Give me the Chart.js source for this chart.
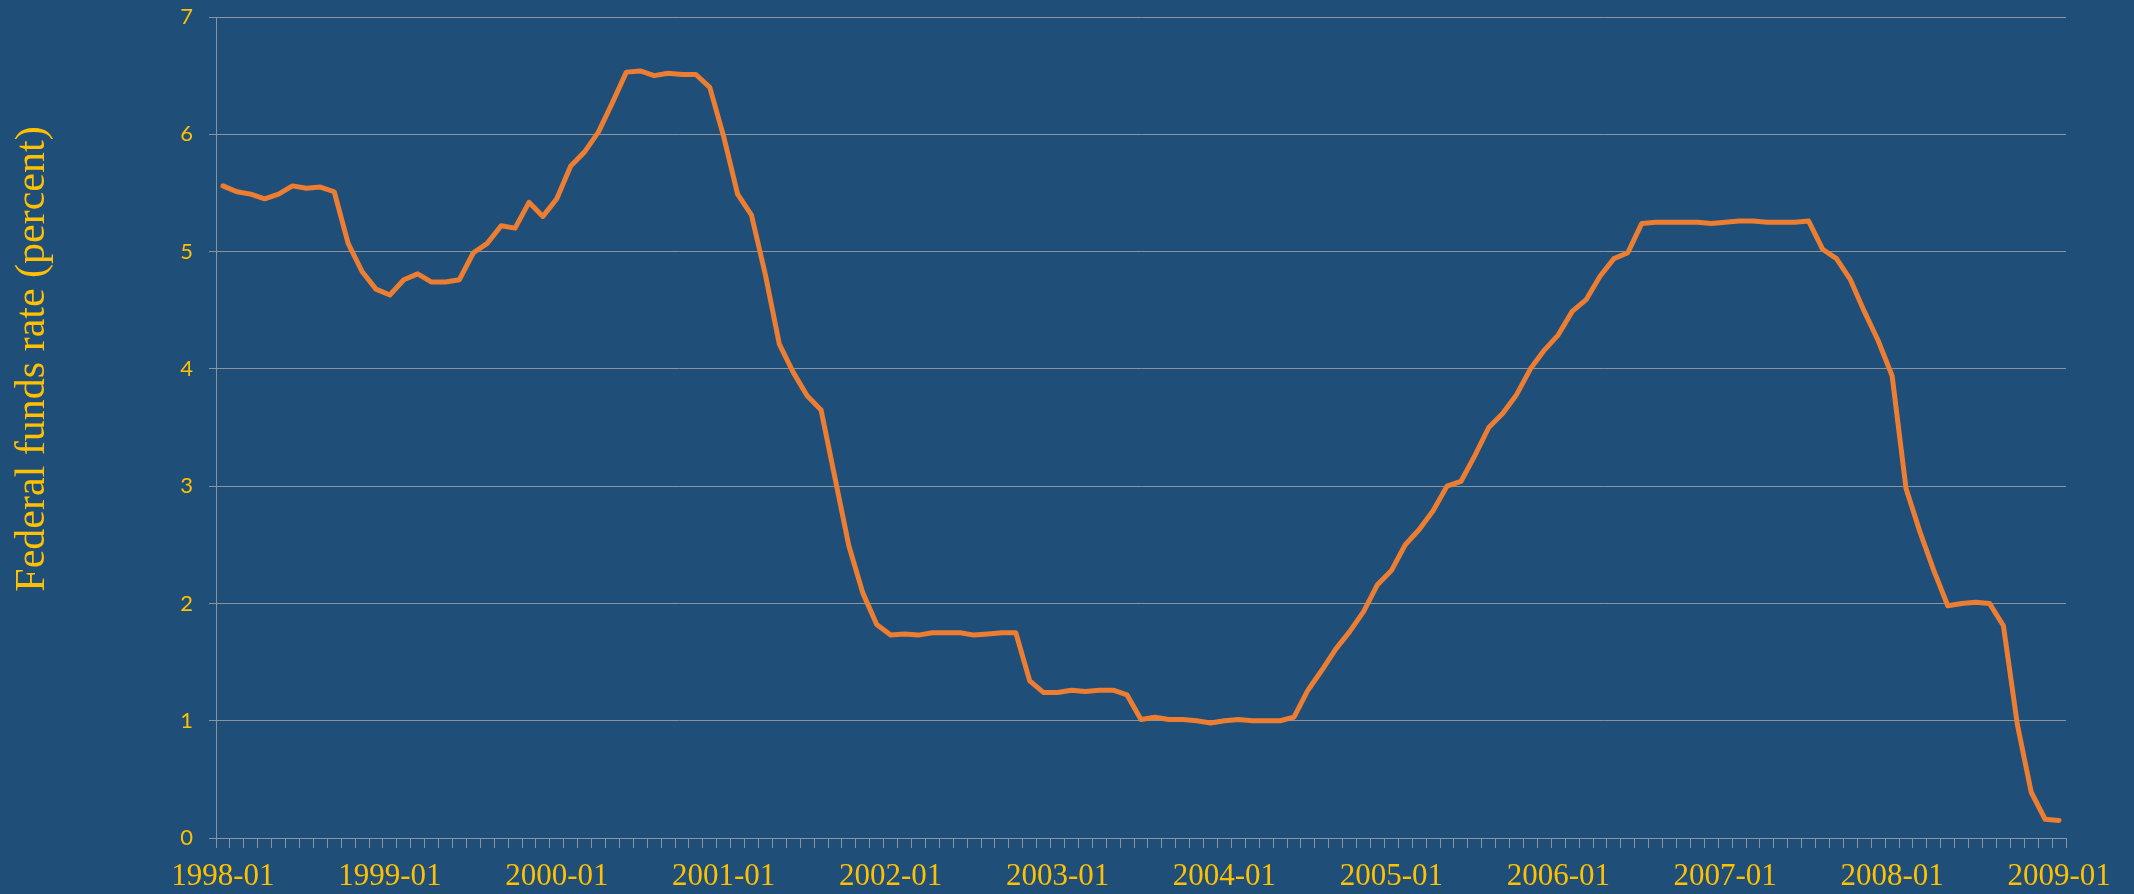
<!DOCTYPE html>
<html>
<head>
<meta charset="utf-8">
<script src="https://cdn.jsdelivr.net/npm/chart.js@4/dist/chart.umd.min.js"></script>
<style>
  html, body { margin: 0; padding: 0; background: #1F4E79; }
  #wrap { width: 2134px; height: 894px; }
</style>
</head>
<body>
<div id="wrap"><canvas id="c" width="2134" height="894"></canvas></div>
<script>
// ---- data ----
const years = [1998, 1999, 2000, 2001, 2002, 2003, 2004, 2005, 2006, 2007, 2008, 2009];
const months = ['01','02','03','04','05','06','07','08','09','10','11','12'];
const categories = years.flatMap(y => y === 2009 ? [y + '-01'] : months.map(m => y + '-' + m));

const rate1998 = [5.56, 5.51, 5.49, 5.45, 5.49, 5.56, 5.54, 5.55, 5.51, 5.07, 4.83, 4.68];
const rate1999 = [4.63, 4.76, 4.81, 4.74, 4.74, 4.76, 4.99, 5.07, 5.22, 5.20, 5.42, 5.30];
const rate2000 = [5.45, 5.73, 5.85, 6.02, 6.27, 6.53, 6.54, 6.50, 6.52, 6.51, 6.51, 6.40];
const rate2001 = [5.98, 5.49, 5.31, 4.80, 4.21, 3.97, 3.77, 3.65, 3.07, 2.49, 2.09, 1.82];
const rate2002 = [1.73, 1.74, 1.73, 1.75, 1.75, 1.75, 1.73, 1.74, 1.75, 1.75, 1.34, 1.24];
const rate2003 = [1.24, 1.26, 1.25, 1.26, 1.26, 1.22, 1.01, 1.03, 1.01, 1.01, 1.00, 0.98];
const rate2004 = [1.00, 1.01, 1.00, 1.00, 1.00, 1.03, 1.26, 1.43, 1.61, 1.76, 1.93, 2.16];
const rate2005 = [2.28, 2.50, 2.63, 2.79, 3.00, 3.04, 3.26, 3.50, 3.62, 3.78, 4.00, 4.16];
const rate2006 = [4.29, 4.49, 4.59, 4.79, 4.94, 4.99, 5.24, 5.25, 5.25, 5.25, 5.25, 5.24];
const rate2007 = [5.25, 5.26, 5.26, 5.25, 5.25, 5.25, 5.26, 5.02, 4.94, 4.76, 4.49, 4.24];
const rate2008 = [3.94, 2.98, 2.61, 2.28, 1.98, 2.00, 2.01, 2.00, 1.81, 0.97, 0.39, 0.16];
const rate2009 = [0.15];
const fedFunds = [].concat(rate1998, rate1999, rate2000, rate2001, rate2002, rate2003,
  rate2004, rate2005, rate2006, rate2007, rate2008, rate2009);

const yTicks = [0, 1, 2, 3, 4, 5, 6, 7];
const yTitle = 'Federal funds rate (percent)';

// ---- styles ----
const BG = '#1F4E79';
const YELLOW = '#FFC000';
const GRID = '#8A95A0';

const bgPlugin = {
  id: 'bg',
  beforeDraw(chart) {
    const ctx = chart.ctx;
    ctx.save();
    ctx.fillStyle = BG;
    ctx.fillRect(0, 0, chart.width, chart.height);
    ctx.restore();
  }
};

const yTitlePlugin = {
  id: 'yTitle',
  afterDraw(chart) {
    const ctx = chart.ctx;
    ctx.save();
    ctx.translate(44, 359);
    ctx.rotate(-Math.PI / 2);
    ctx.font = '42px "Liberation Serif", "Times New Roman", serif';
    ctx.fillStyle = YELLOW;
    ctx.textAlign = 'center';
    ctx.textBaseline = 'alphabetic';
    ctx.fillText(yTitle, 0, 0);
    ctx.restore();
  }
};

new Chart(document.getElementById('c'), {
  type: 'line',
  data: {
    labels: categories,
    datasets: [{
      data: fedFunds,
      borderColor: '#ED7D31',
      borderWidth: 5,
      pointRadius: 0,
      tension: 0,
      borderJoinStyle: 'round',
      borderCapStyle: 'round',
      fill: false
    }]
  },
  options: {
    responsive: false,
    animation: false,
    devicePixelRatio: 1,
    layout: { padding: { top: 17, right: 68, left: 0, bottom: 0 } },
    plugins: { legend: { display: false }, tooltip: { enabled: false } },
    scales: {
      x: {
        offset: true,
        grid: { offset: true, drawOnChartArea: false, drawTicks: true, tickLength: 10, color: GRID },
        border: { color: GRID, width: 1 },
        ticks: {
          autoSkip: false,
          maxRotation: 0,
          minRotation: 0,
          padding: 10,
          color: YELLOW,
          font: { family: '"Liberation Serif", "Times New Roman", serif', size: 31 },
          callback: function(v, i) { const l = categories[i]; return l.endsWith('-01') ? l : ''; }
        },
        afterFit(s) { s.height = 56; s.paddingLeft = 0; s.paddingRight = 0; }
      },
      y: {
        min: 0,
        max: 7,
        afterBuildTicks(s) { s.ticks = yTicks.map(v => ({ value: v })); },
        grid: { color: GRID, tickLength: 7, drawTicks: true },
        border: { color: GRID, width: 1 },
        ticks: {
          padding: 16,
          color: YELLOW,
          font: { family: 'Lato, "Open Sans", sans-serif', size: 22 }
        },
        afterFit(s) { s.width = 216; s.paddingTop = 0; s.paddingBottom = 0; }
      }
    }
  },
  plugins: [bgPlugin, yTitlePlugin]
});
</script>
</body>
</html>
